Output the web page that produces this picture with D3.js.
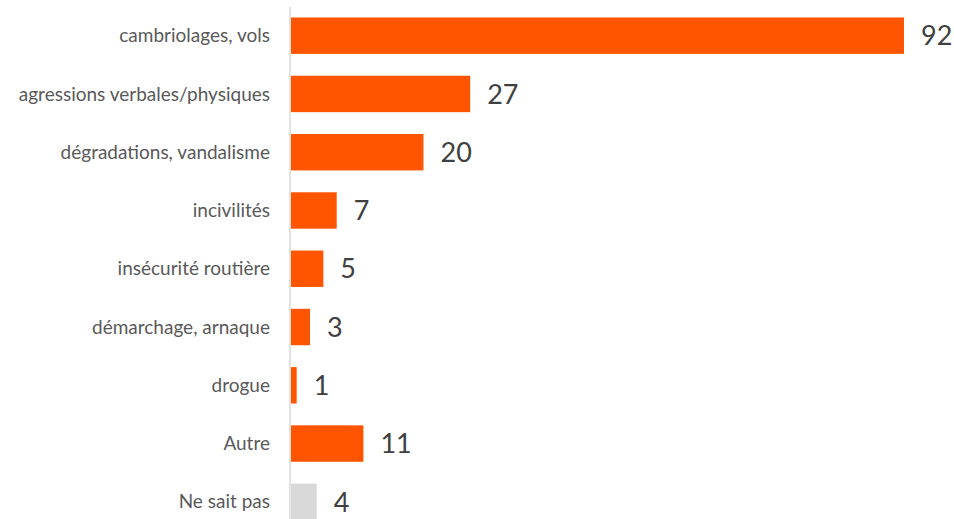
<!DOCTYPE html>
<html><head><meta charset="utf-8">
<script src="https://cdn.jsdelivr.net/npm/d3@7"></script>
<style>body{margin:0;background:#fff;}svg{display:block;}</style>
</head><body>
<svg id="c" width="954" height="519"></svg>
<script>
const categories = ["cambriolages, vols","agressions verbales/physiques","dégradations, vandalisme","incivilités","insécurité routière","démarchage, arnaque","drogue","Autre","Ne sait pas"];
const values = [92,27,20,7,5,3,1,11,4];
const colors = ["#ff5500","#ff5500","#ff5500","#ff5500","#ff5500","#ff5500","#ff5500","#ff5500","#d9d9d9"];

const svg = d3.select("#c");
const x0 = 290;
const x = d3.scaleLinear().domain([0,92]).range([x0,904]);
const y = d3.scaleBand().domain(categories).range([6.4, 531.1]).paddingInner(0.375).paddingOuter(0.19);

svg.append("line").attr("x1",x0).attr("x2",x0).attr("y1",7).attr("y2",519)
  .attr("stroke","#d9d9d9").attr("stroke-width",1.5);

svg.selectAll("rect.bar").data(values).join("rect")
  .attr("x", x(0)+1).attr("y",(d,i)=>y(categories[i]))
  .attr("width", d=>x(d)-x(0)-1).attr("height", y.bandwidth())
  .attr("fill",(d,i)=>colors[i]);

svg.selectAll("text.lab").data(categories).join("text")
  .attr("x",270).attr("y",d=>y(d)+y.bandwidth()/2).attr("dy","0.35em")
  .attr("text-anchor","end").attr("font-family","Lato, sans-serif").attr("font-size",19)
  .attr("fill","#595959").text(d=>d);

svg.selectAll("text.val").data(values).join("text")
  .attr("x",d=>x(d)+17).attr("y",(d,i)=>y(categories[i])+y.bandwidth()/2).attr("dy","0.36em")
  .attr("font-family","Lato, sans-serif").attr("font-size",27)
  .attr("fill","#404040").text(d=>d);
</script>
</body></html>
